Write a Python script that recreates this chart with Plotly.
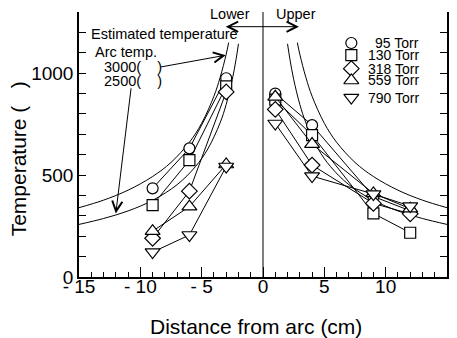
import plotly.graph_objects as go

# ---------------- data ----------------
x_pos = [-9, -6, -3, None, 1, 4, 9, 12]
series_names = ["95 Torr", "130 Torr", "318 Torr", "559 Torr", "790 Torr"]
t_95 = [435, 631, 975, None, 900, 745, 395, 325]
t_130 = [353, 573, 935, None, 870, 696, 312, 217]
t_318 = [190, 421, 908, None, 822, 549, 361, 310]
t_559 = [225, 345, 552, None, 884, 652, 410, 335]
t_790 = [122, 206, 542, None, 753, 495, 407, 348]

# estimated temperature curves
c3000_x = [-15, -13, -11, -9, -7.5, -6, -5, -4, -3.5, -3, -2.8]
c3000_t = [340, 377, 426, 493, 562, 661, 754, 887, 978, 1093, 1150]
c2500_x = [-15, -13, -11, -9, -7, -5.5, -4.5, -3.5, -3, -2.5, -2.2, -2.0]
c2500_t = [258, 287, 324, 376, 453, 542, 628, 756, 847, 970, 1066, 1144]

x_tickvals = [-15, -10, -5, 0, 5, 10, 15]
x_ticktext = ["- 15", "- 10", "- 5", "0", "5", "10", "15"]
y_tickvals = [0, 500, 1000]
y_ticktext = ["0", "500", "1000"]

FONT = "Liberation Sans, Arial, sans-serif"
symbols = ["circle", "square", "diamond", "triangle-up", "triangle-down"]
sizes = [11, 11, 12, 13, 13]
series = [t_95, t_130, t_318, t_559, t_790]

fig = go.Figure()

# curves (lower and mirrored upper side)
for cx, ct in [(c3000_x, c3000_t), (c2500_x, c2500_t)]:
    fig.add_trace(go.Scatter(x=cx, y=ct, mode="lines", line=dict(color="black", width=1, shape="spline"),
                             showlegend=False, hoverinfo="skip"))
    fig.add_trace(go.Scatter(x=[-v for v in cx], y=ct, mode="lines",
                             line=dict(color="black", width=1, shape="spline"),
                             showlegend=False, hoverinfo="skip"))

for name, ys, sym, sz in zip(series_names, series, symbols, sizes):
    fig.add_trace(go.Scatter(
        x=x_pos, y=ys, mode="lines+markers", name=name,
        line=dict(color="black", width=1),
        marker=dict(symbol=sym, size=sz, color="white",
                    line=dict(color="black", width=1.2)),
        showlegend=False, connectgaps=False))

# manual legend
leg_x = 7.2
leg_y = [1148, 1088, 1022, 964, 880]
for name, sym, sz, ly in zip(series_names, symbols, sizes, leg_y):
    fig.add_trace(go.Scatter(x=[leg_x], y=[ly], mode="markers",
                             marker=dict(symbol=sym, size=sz, color="white",
                                         line=dict(color="black", width=1.2)),
                             showlegend=False, hoverinfo="skip"))
    fig.add_annotation(x=12.9, y=ly, text=name, showarrow=False, xanchor="right", yanchor="middle",
                       font=dict(family=FONT, size=14, color="black"))

# vertical line at 0
fig.add_shape(type="line", x0=0, x1=0, y0=0, y1=1300, xref="x", yref="y",
              line=dict(color="black", width=1))

txt = dict(family=FONT, size=14.5, color="black")
fig.add_annotation(x=-2.68, y=1289, text="Lower", showarrow=False, font=txt)
fig.add_annotation(x=2.68, y=1289, text="Upper", showarrow=False, font=txt)
fig.add_annotation(x=-7.99, y=1191, text="Estimated temperature", showarrow=False, font=txt)
fig.add_annotation(x=-11.15, y=1104, text="Arc temp.", showarrow=False, font=txt)
fig.add_annotation(x=-13.14, y=1031, text="3000(\u00a0\u00a0\u00a0\u00a0)", showarrow=False,
                   xanchor="left", font=txt)
fig.add_annotation(x=-13.14, y=961, text="2500(\u00a0\u00a0\u00a0\u00a0)", showarrow=False,
                   xanchor="left", font=txt)

# arrows
fig.add_annotation(x=2.93, y=1228, ax=-3.16, ay=1228, axref="x", ayref="y", text="",
                   showarrow=True, arrowhead=5, arrowsize=2, arrowwidth=1, arrowcolor="black",
                   arrowside="end+start", startarrowhead=5, startarrowsize=2)
fig.add_annotation(x=-3.04, y=1088, ax=-8.45, ay=1029, axref="x", ayref="y", text="",
                   showarrow=True, arrowhead=5, arrowsize=2, arrowwidth=1, arrowcolor="black")
fig.add_annotation(x=-12.0, y=312, ax=-10.74, ay=933, axref="x", ayref="y", text="",
                   showarrow=True, arrowhead=5, arrowsize=2, arrowwidth=1, arrowcolor="black")

# axis titles
fig.add_annotation(x=0.481, y=-0.185, xref="paper", yref="paper", text="Distance from arc (cm)",
                   showarrow=False, xanchor="center", yanchor="middle",
                   font=dict(family=FONT, size=21, color="black"))
fig.add_annotation(x=-0.165, y=0.445, xref="paper", yref="paper",
                   text="Temperature (\u00a0\u00a0\u00a0)", textangle=-90,
                   showarrow=False, xanchor="center", yanchor="middle",
                   font=dict(family=FONT, size=21, color="black"))

fig.update_layout(
    width=457, height=338,
    margin=dict(l=79, r=8, t=12, b=61),
    plot_bgcolor="white", paper_bgcolor="white",
    font=dict(family=FONT, color="black"),
    showlegend=False,
    xaxis=dict(range=[-15, 15], tickmode="array", tickvals=x_tickvals, ticktext=x_ticktext,
               ticks="inside", ticklen=10, tickwidth=1.2, tickcolor="black",
               showline=True, linecolor="black", linewidth=1.5, mirror=False,
               showgrid=False, zeroline=False, ticklabelstandoff=-9,
               tickfont=dict(family=FONT, size=19, color="black"),
               minor=dict(tickmode="linear", tick0=0, dtick=1, ticks="inside", ticklen=5,
                          tickwidth=1, tickcolor="black")),
    yaxis=dict(range=[0, 1300], tickmode="array", tickvals=y_tickvals, ticktext=y_ticktext,
               ticks="inside", ticklen=7, tickwidth=1.2, tickcolor="black",
               showline=True, linecolor="black", linewidth=1.5, mirror="ticks",
               showgrid=False, zeroline=False,
               tickfont=dict(family=FONT, size=19, color="black"),
               minor=dict(tickmode="linear", tick0=0, dtick=100, ticks="inside", ticklen=7,
                          tickwidth=1, tickcolor="black")),
)

fig.write_html("out.html")
